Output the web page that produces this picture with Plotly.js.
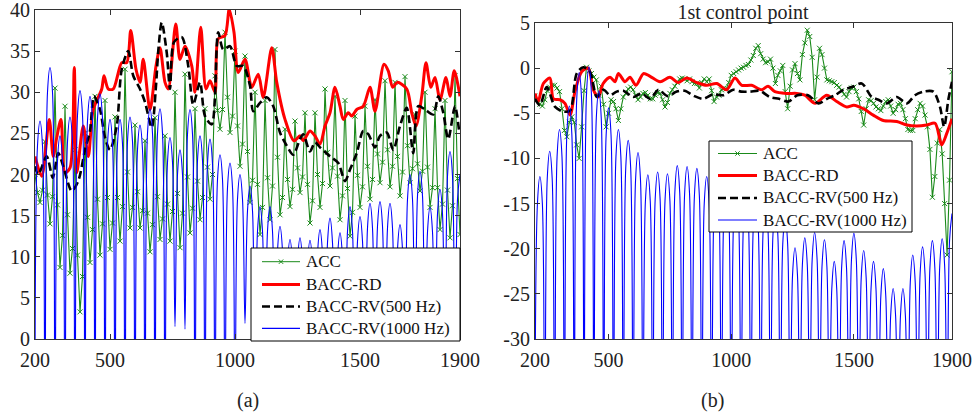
<!DOCTYPE html>
<html><head><meta charset="utf-8">
<script src="https://cdn.plot.ly/plotly-3.0.1.min.js"></script>
<style>html,body{margin:0;padding:0;background:#fff}#chart{width:974px;height:417px}</style>
</head><body><div id="chart"></div>
<script>
// ---------- shared ----------
const seriesNames = ['ACC', 'BACC-RD', 'BACC-RV(500 Hz)', 'BACC-RV(1000 Hz)'];
const xTickVals = [200, 500, 1000, 1500, 1900];
const yTickValsA = [0, 5, 10, 15, 20, 25, 30, 35, 40];
const yTickValsB = [-30, -25, -20, -15, -10, -5, 0, 5];
const yTickTextB = ['-30', '-25', '-20', '-15', '-10', '-5', '0', '5'];
const titleB = '1st control point';
const panelLabels = ['(a)', '(b)'];
// 10 Hz sampling grid, 200..1900 Hz
const freq10 = Array.from({length: 171}, (_, i) => 200 + 10 * i);

// ---------- panel (a) ----------
const accA = [
  20,17.8,16.6,18.1, 24,17.5,14,17.3, 30.5,16.3,8.7,12.6, 28.3,15.1,8.0,11.0, 23,10.2,3.3,7.6,
  25,14.8,9.3,13.3, 29.5,17.0,10.2,14.0, 29,17.2,10.9,14.1, 27,17.2,11.9,16.1, 32.8,20.3,13.5,16.0,
  26,17.9,13.5,15.6, 24.1,15.3,10.6,13.9, 26.9,17.3,12.1,14.6, 24.7,16.4,11.9,15.5, 30,17.7,11.1,15.3,
  32.2,19.7,12.9,15.9, 28,19.2,14.5,17.2, 28,20.9,17.0,20.0, 32,27.8,25.5,27.9, 37.3,29.4,25.1,27.1,
  35,25.9,21.0,23.7, 34.4,22.8,16.6,19.3, 30,18.8,12.7,16.0, 29,19.6,14.5,18.6, 35.2,22.1,15.1,17.2,
  25.5,19.4,16.1,18.2, 26.5,20.8,17.8,19.7, 27.5,18.8,14.1,16.8, 27.5,20.0,16.0,18.9, 30.4,22.7,18.6,20.8,
  29.5,19.8,14.5,17.4, 29,18.3,12.5,15.4, 27.1,19.9,16,18.5, 28.3,21.0,17,19.4, 29.1,22.5,19,21.5,
  31.4,23.0,18.5,21.0, 31.2,22.2,17.4,20.3, 31.9,23.5,19,20.7, 27.3,21.3,18,20.4, 30,20.9,16,18.4,
  28,18.4,13.3,16.4, 29,18.1,12.3,16.2, 32,19.5,12.7
];
const rdAx = [200,227,257,273,287,304,320,340,357,367,393,413,433,467,476,493,513,547,567,583,604,620,633,660,684,700,720,733,763,780,800,827,840,863,884,900,920,933,960,977,996,1013,1040,1067,1093,1113,1147,1167,1200,1236,1260,1273,1300,1320,1340,1360,1380,1400,1420,1433,1453,1467,1487,1513,1540,1560,1596,1613,1631,1649,1687,1707,1724,1747,1764,1783,1800,1820,1844,1860,1877,1900];
const rdAy = [22.2,19.8,26.7,22.2,24.5,26.7,20.2,20.8,33.0,20.2,25.9,22.2,27.9,30.4,32.0,30.4,30.4,33.6,33.6,37.5,32.8,31.2,34.0,27.9,33.2,35.4,31.2,30.4,38.3,34.0,35.6,33.2,30.0,37.9,30.4,31.4,30.0,36.5,36.9,40.1,37.3,32.4,34.0,30.6,32.2,29.4,35.4,31.2,26.7,24.1,24.7,24.1,25.3,24.7,23.7,25.9,27.5,30.6,28.3,26.7,27.5,27.1,27.9,28.3,30.6,27.7,33.4,32.6,30.6,31.2,30.4,27.5,25.9,29.5,33.6,30.6,31.8,29.1,31.8,29.5,32.6,29.5];
const rv500Ax = [200,213,247,271,293,313,347,373,400,420,436,460,480,500,527,547,573,593,620,640,667,684,693,707,727,740,756,787,813,833,860,880,907,933,953,980,1007,1033,1060,1073,1100,1127,1153,1180,1207,1233,1260,1273,1300,1320,1340,1380,1413,1440,1460,1487,1513,1533,1560,1580,1607,1633,1660,1687,1713,1733,1760,1793,1813,1833,1853,1880,1897];
const rv500Ay = [21.0,20.0,22.2,19.6,22.6,21.0,18.0,19.2,23.0,25.3,29.5,27.9,24.5,23.0,25.9,32.8,35.0,32.0,30.4,28.8,25.7,30.8,35.0,38.5,34.8,30.4,36.1,36.7,33.2,28.5,31.2,27.1,26.1,37.3,35.2,35.6,33.2,33.2,30.8,27.7,28.7,29.4,28.3,25.1,23.5,22.4,24.3,24.9,22.8,23.9,23.3,22.2,21.4,19.2,20.6,22.6,25.3,24.9,23.3,24.7,25.1,23.0,25.9,28.1,22.6,28.3,27.9,27.3,29.5,27.5,24.3,28.3,25.1];
const rv1000A = [
  -10,23.5,26.5,23.5, -10,30,33,30, -10,21.7,24.7,21.7, -10,24,27,24, -10,27.2,30.2,27.2,
  -10,26.5,29.5,26.5, -10,26.8,29.8,26.8, -10,23.7,26.7,23.7, -10,23.7,26.7,23.7, -10,24,27,24,
  -10,23,26,23, -10,25,28,25, -10,25,28,25, -10,21.5,24.5,21.5, 1.5,20,23,20,
  1.2,24.9,27.9,24.9, -10,21.7,24.7,21.7, -10,21.3,24.3,21.3, -10,19.4,22.4,19.4, -10,18.4,21.4,18.4,
  -10,17,20,17, 1.9,15.6,18.6,15.6, -10,13.1,16.1,13.1, -10,13.1,16.1,13.1, -10,10.7,13.7,10.7,
  -10,9.1,12.1,9.1, -10,9.3,12.3,9.3, -10,9,12,9, -10,10.3,13.3,10.3, -10,11.7,14.7,11.7,
  -10,9.9,12.9,9.9, -10,13.1,16.1,13.1, -10,11.9,14.9,11.9, -10,13.5,16.5,13.5, -10,13.7,16.7,13.7,
  -10,13.5,16.5,13.5, -10,10.9,13.9,10.9, -10,17,20,17, -10,17.4,20.4,17.4, -10,13,16,13,
  -10,15.2,18.2,15.2, -10,19.8,22.8,19.8, -10,17,20
];

// ---------- panel (b) ----------
const accB = [
  -3.1,-3.5,-4.0,-4.2,-3.5,-2.5,-2.1,-1.9,-1.9,-2.2,
  -2.6,-4.5,-6.9,-7.6,-6.0,-5.4,-6.0,-8.5,-10.0,-6.5,
  -2.5,0.1,-0.3,-0.6,-1.0,-1.3,-3.0,-2.0,-4.0,-6.5,
  -5.0,-3.5,-3.7,-4.5,-5.8,-4.5,-3.2,-2.8,-2.3,-2.1,
  -2.4,-3.0,-3.5,-3.2,-2.8,-2.7,-3.0,-3.4,-3.4,-3.0,
  -2.7,-2.8,-3.5,-4.3,-3.8,-2.8,-2.4,-2.0,-1.6,-1.2,
  -1.1,-1.2,-1.4,-1.2,-1.5,-1.7,-1.7,-2.2,-1.6,-1.2,
  -1.5,-1.2,-2.5,-3.7,-3.2,-3.0,-2.4,-2.2,-2.3,-1.6,
  -0.8,-0.6,-0.4,-0.2,0.0,0.1,0.3,0.4,0.9,1.4,
  2.2,2.5,1.6,1.0,0.6,0.7,1.0,0.0,-1.7,-0.8,
  -0.3,0.3,-2.6,-4.5,-2.0,-0.2,0.5,-0.6,-1.3,1.5,
  2.8,4.2,3.5,1.2,-3.5,-1.0,2.2,1.5,0.0,-1.3,
  -1.4,-1.5,-1.6,-1.9,-2.1,-2.5,-2.9,-3.2,-2.6,-2.2,
  -2.1,-2.6,-3.4,-4.8,-6.3,-4.5,-3.5,-3.6,-3.9,-4.3,
  -4.5,-4.7,-4.2,-3.7,-3.5,-4.2,-5.0,-4.6,-4.0,-3.9,
  -4.6,-5.6,-6.8,-6.9,-6.9,-5.6,-4.6,-3.9,-4.2,-5.2,
  -6.5,-9.0,-14.3,-12.0,-8.3,-6.8,-9.5,-15.0,-20.7,-12.4,
  -0.4
];
const rdBx = [200,213,234,261,275,302,322,343,363,390,417,438,458,478,506,526,540,567,587,612,642,669,710,750,783,818,860,900,941,981,1015,1043,1083,1124,1150,1178,1226,1267,1300,1342,1389,1430,1471,1500,1539,1579,1620,1675,1716,1756,1797,1831,1858,1879,1900];
const rdBy = [-2.8,-3.7,-1.7,-1.1,-3.4,-3.5,-3.9,-5.2,-2.6,-0.4,0.0,-2.4,-3.2,-1.7,-1.0,-1.5,-0.6,-1.5,-1.0,-1.9,-0.6,-0.9,-1.5,-1.0,-1.6,-1.1,-1.6,-1.9,-1.7,-2.4,-1.1,-1.9,-1.9,-2.4,-2.0,-2.6,-2.8,-2.8,-3.0,-3.9,-3.0,-3.7,-4.3,-4.1,-4.5,-5.2,-5.8,-5.9,-6.3,-6.4,-6.3,-6.1,-8.5,-7.2,-5.6];
const rv500Bx = [200,220,248,282,315,343,370,397,424,452,479,506,533,560,601,635,669,703,740,778,810,850,886,925,968,1008,1040,1077,1115,1158,1195,1233,1270,1313,1355,1390,1423,1457,1491,1532,1573,1600,1634,1675,1716,1749,1783,1824,1851,1868,1885,1900];
const rv500By = [-3.4,-4.1,-2.1,-4.3,-4.8,-4.7,-0.6,0.1,-0.4,-3.2,-2.4,-3.0,-2.6,-2.5,-3.2,-2.8,-3.4,-2.4,-3.1,-2.6,-2.5,-3.1,-3.4,-2.9,-3.0,-2.4,-2.6,-2.6,-2.5,-3.2,-3.4,-3.7,-3.0,-3.0,-3.9,-3.4,-3.0,-2.4,-2.1,-1.7,-3.2,-3.5,-3.9,-3.2,-3.9,-3.0,-2.6,-2.6,-4.3,-6.5,-3.5,-1.5];
const rv1000B = [
  -45,-15,-12,-15, -45,-12.2,-9.2,-12.2, -45,-9.8,-6.8,-9.8, -45,-7.2,-4.2,-7.2, -45,-3.5,-0.5,-3.5,
  -45,-2.85,0.15,-2.85, -45,-5.5,-2.5,-5.5, -45,-7.4,-4.4,-7.4, -45,-9.8,-6.8,-9.8, -45,-11,-8,-11,
  -45,-12.35,-9.35,-12.35, -45,-14.8,-11.8,-14.8, -45,-14.5,-11.5,-14.5, -45,-14.7,-11.7,-14.7, -45,-13.8,-10.8,-13.8,
  -45,-13.9,-10.9,-13.9, -45,-14.1,-11.1,-14.1, -45,-15,-12,-15, -45,-15.5,-12.5,-15.5, -45,-16,-13,-16,
  -45,-16.5,-13.5,-16.5, -45,-17,-14,-17, -45,-17.5,-14.5,-17.5, -45,-18,-15,-18, -45,-18.5,-15.5,-18.5,
  -45,-19.5,-16.5,-19.5, -45,-22.9,-19.9,-22.9, -45,-21.8,-18.8,-21.8, -45,-21.2,-18.2,-21.2, -45,-22,-19,-22,
  -45,-24.4,-21.4,-24.4, -45,-22.1,-19.1,-22.1, -45,-21.3,-18.3,-21.3, -45,-23.2,-20.2,-23.2, -45,-24.4,-21.4,-24.4,
  -45,-25.2,-22.2,-25.2, -45,-27.4,-24.4,-27.4, -45,-27.4,-24.4,-27.4, -45,-23.7,-20.7,-23.7, -45,-22.8,-19.8,-22.8,
  -45,-22.1,-19.1,-22.1, -45,-21.9,-18.9,-21.9, -45,-19.1,-16.1
];

// ---------- styles ----------
const W = 974, H = 417;
const FONT = 'Liberation Serif';
const GREEN = '#1a8a1a', RED = '#ff0000', BLACK = '#000000', BLUE = '#0000ff';
const styles = [
  {color: GREEN, width: 1, marker: true},
  {color: RED, width: 3},
  {color: BLACK, width: 2.6, dash: '8px,4px'},
  {color: BLUE, width: 1.2}
];

function makeTraces(xa, ya, acc, rdx, rdy, rvx, rvy, rv1) {
  return [
    {x: freq10, y: acc, xaxis: xa, yaxis: ya, name: seriesNames[0], type: 'scatter',
     mode: 'lines+markers', line: {color: GREEN, width: 1.1},
     marker: {symbol: 'x-thin', size: 5, color: GREEN, line: {color: GREEN, width: 1}}},
    {x: rdx, y: rdy, xaxis: xa, yaxis: ya, name: seriesNames[1], type: 'scatter',
     mode: 'lines', line: {color: RED, width: 3, shape: 'spline', smoothing: 0.8}},
    {x: rvx, y: rvy, xaxis: xa, yaxis: ya, name: seriesNames[2], type: 'scatter',
     mode: 'lines', line: {color: BLACK, width: 2.6, dash: '8px,4px', shape: 'spline', smoothing: 0.8}},
    {x: freq10, y: rv1, xaxis: xa, yaxis: ya, name: seriesNames[3], type: 'scatter',
     mode: 'lines', line: {color: BLUE, width: 1.1, shape: 'spline', smoothing: 1}}
  ];
}

const traces = [
  ...makeTraces('x', 'y', accA, rdAx, rdAy, rv500Ax, rv500Ay, rv1000A),
  ...makeTraces('x2', 'y2', accB, rdBx, rdBy, rv500Bx, rv500By, rv1000B)
];

// ---------- legend boxes (drawn as shapes + text, pixel placement) ----------
const px = p => p / W, py = p => 1 - p / H;
const legendBoxes = [
  {box: [251, 248, 460, 341], rows: [261.7, 284.5, 306.5, 328.3], sample: [262, 300], text: 304},
  {box: [709, 141, 912, 232], rows: [153.5, 175.5, 198, 220], sample: [718, 757], text: 761}
];
const shapes = [], annotations = [];
legendBoxes.forEach(lg => {
  shapes.push({type: 'rect', xref: 'paper', yref: 'paper', layer: 'above',
    x0: px(lg.box[0]), x1: px(lg.box[2]), y0: py(lg.box[3]), y1: py(lg.box[1]),
    fillcolor: '#ffffff', line: {color: '#000', width: 1}});
  lg.rows.forEach((ry, i) => {
    const st = styles[i];
    shapes.push({type: 'line', xref: 'paper', yref: 'paper', layer: 'above',
      x0: px(lg.sample[0]), x1: px(lg.sample[1]), y0: py(ry), y1: py(ry),
      line: {color: st.color, width: st.width, dash: st.dash || 'solid'}});
    if (st.marker) {
      const cx = (lg.sample[0] + lg.sample[1]) / 2;
      shapes.push({type: 'line', xref: 'paper', yref: 'paper', layer: 'above',
        x0: px(cx - 2.2), x1: px(cx + 2.2), y0: py(ry - 2.2), y1: py(ry + 2.2), line: {color: st.color, width: 1}});
      shapes.push({type: 'line', xref: 'paper', yref: 'paper', layer: 'above',
        x0: px(cx - 2.2), x1: px(cx + 2.2), y0: py(ry + 2.2), y1: py(ry - 2.2), line: {color: st.color, width: 1}});
    }
    annotations.push({text: seriesNames[i], xref: 'paper', yref: 'paper', x: px(lg.text), y: py(ry),
      xanchor: 'left', yanchor: 'middle', showarrow: false,
      font: {family: FONT, size: 17, color: '#111'}});
  });
});
annotations.push({text: panelLabels[0], xref: 'paper', yref: 'paper', x: px(248), y: py(400),
  xanchor: 'center', yanchor: 'middle', showarrow: false, font: {family: FONT, size: 20, color: '#222'}});
annotations.push({text: panelLabels[1], xref: 'paper', yref: 'paper', x: px(712), y: py(400),
  xanchor: 'center', yanchor: 'middle', showarrow: false, font: {family: FONT, size: 20, color: '#222'}});

const axisCommon = {
  showline: true, mirror: 'ticks', linecolor: '#333', linewidth: 1,
  ticks: 'inside', ticklen: 5, tickcolor: '#333', tickwidth: 1,
  showgrid: false, zeroline: false, fixedrange: true, ticklabeloverflow: 'allow',
  tickfont: {family: FONT, size: 20, color: '#222'}
};

const layout = {
  width: W, height: H,
  margin: {l: 0, r: 0, t: 0, b: 0},
  paper_bgcolor: '#fff', plot_bgcolor: '#fff',
  showlegend: false,
  title: {text: titleB, font: {family: FONT, size: 20, color: '#222'},
          x: px(743), xanchor: 'center', xref: 'paper', y: py(12), yanchor: 'middle', yref: 'paper'},
  xaxis: Object.assign({}, axisCommon, {domain: [px(35), px(460)], range: [200, 1900], tickvals: xTickVals, anchor: 'y', ticklabelstandoff: 3}),
  yaxis: Object.assign({}, axisCommon, {domain: [py(339), py(10)], range: [0, 40], tickvals: yTickValsA, anchor: 'x'}),
  xaxis2: Object.assign({}, axisCommon, {domain: [px(535), px(952)], range: [200, 1900], tickvals: xTickVals, anchor: 'y2', ticklabelstandoff: 3}),
  yaxis2: Object.assign({}, axisCommon, {domain: [py(339), py(23)], range: [-30, 5], tickvals: yTickValsB, ticktext: yTickTextB, anchor: 'x2'}),
  shapes: shapes,
  annotations: annotations
};

Plotly.newPlot('chart', traces, layout, {staticPlot: true, displayModeBar: false});
</script></body></html>
